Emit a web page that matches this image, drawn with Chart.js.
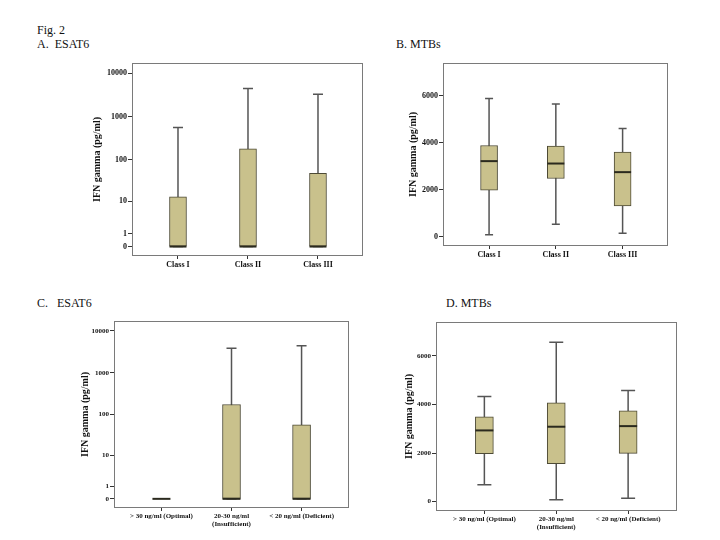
<!DOCTYPE html>
<html>
<head>
<meta charset="utf-8">
<script src="https://cdn.jsdelivr.net/npm/chart.js@4/dist/chart.umd.min.js"></script>
<style>
  body { margin: 0; background: #fff; }
  #wrap { position: relative; width: 720px; height: 540px; font-family: 'Liberation Serif', serif; }
  .lbl { position: absolute; font-size: 12px; color: #111; line-height: 14px; white-space: pre; }
  canvas { position: absolute; }
</style>
</head>
<body>
<div id="wrap">
  <div class="lbl" style="left:37px; top:23px;">Fig. 2</div>
  <div class="lbl" style="left:37px; top:37px;">A.  ESAT6</div>
  <div class="lbl" style="left:396px; top:37px;">B. MTBs</div>
  <div class="lbl" style="left:37px; top:296px;">C.   ESAT6</div>
  <div class="lbl" style="left:446px; top:296px;">D. MTBs</div>
  <canvas id="chartA" width="279" height="235" style="left:91px; top:55px;"></canvas>
  <canvas id="chartB" width="268" height="225" style="left:407px; top:55px;"></canvas>
  <canvas id="chartC" width="278" height="228" style="left:79px; top:312px;"></canvas>
  <canvas id="chartD" width="282" height="228" style="left:403px; top:312px;"></canvas>
</div>
<script>
// categories
const classLabels = ['Class I', 'Class II', 'Class III'];
const vitdLabels = ['> 30 ng/ml (Optimal)', ['20-30 ng/ml', '(Insufficient)'], '< 20 ng/ml (Deficient)'];

// tick values
const logTicks = [0, 1, 10, 100, 1000, 10000];
const mtbTicks = [0, 2000, 4000, 6000];

// A. ESAT6 by class (pg/ml)
const esatClassMin = [0, 0, 0];
const esatClassQ1 = [0, 0, 0];
const esatClassMed = [0, 0, 0];
const esatClassQ3 = [13, 178, 48];
const esatClassMax = [555, 4415, 3275];

// B. MTBs by class
const mtbClassMin = [98, 540, 157];
const mtbClassQ1 = [1987, 2481, 1319];
const mtbClassMed = [3221, 3119, 2753];
const mtbClassQ3 = [3885, 3860, 3604];
const mtbClassMax = [5885, 5647, 4609];

// C. ESAT6 by vitamin D status
const esatVitdMin = [0, 0, 0];
const esatVitdQ1 = [0, 0, 0];
const esatVitdMed = [0, 0, 0];
const esatVitdQ3 = [0, 175, 57];
const esatVitdMax = [0, 3873, 4390];

// D. MTBs by vitamin D status
const mtbVitdMin = [699, 82, 136];
const mtbVitdQ1 = [1972, 1561, 1985];
const mtbVitdMed = [2930, 3082, 3107];
const mtbVitdQ3 = [3493, 4068, 3740];
const mtbVitdMax = [4327, 6559, 4574];

const boxFill = '#C9C18C';
const boxBorder = '#4d4a35';
const whiskerColor = '#555555';
const frameColor = '#7a7a7a';

const lg = v => Math.log10(v + 1);
const same = v => v;

const boxPlugin = {
    id: 'boxExtras',
    beforeDatasetsDraw(chart) {
        const b = chart.options.plugins.boxExtras;
        const tf = b.log ? lg : same;
        const xs = chart.scales.x, ys = chart.scales.y, ctx = chart.ctx;
        ctx.save();
        ctx.strokeStyle = whiskerColor;
        ctx.lineWidth = 1.5;
        b.min.forEach((mn, i) => {
            const x = xs.getPixelForValue(i + 1);
            const yMin = ys.getPixelForValue(tf(mn)), yMax = ys.getPixelForValue(tf(b.max[i]));
            if (yMin === yMax) return;
            ctx.beginPath();
            ctx.moveTo(x, yMin); ctx.lineTo(x, yMax);
            ctx.moveTo(x - b.cap, yMin); ctx.lineTo(x + b.cap, yMin);
            ctx.moveTo(x - b.cap, yMax); ctx.lineTo(x + b.cap, yMax);
            ctx.stroke();
        });
        ctx.restore();
    },
    afterDatasetsDraw(chart) {
        const b = chart.options.plugins.boxExtras;
        const tf = b.log ? lg : same;
        const xs = chart.scales.x, ys = chart.scales.y, ctx = chart.ctx;
        const a = chart.chartArea;
        ctx.save();
        ctx.strokeStyle = '#2b2a1e';
        ctx.lineWidth = 2;
        b.med.forEach((m, i) => {
            const x = xs.getPixelForValue(i + 1), y = ys.getPixelForValue(tf(m));
            ctx.beginPath();
            ctx.moveTo(x - b.half, y); ctx.lineTo(x + b.half, y);
            ctx.stroke();
        });
        ctx.strokeStyle = frameColor;
        ctx.lineWidth = 1;
        ctx.strokeRect(a.left + 0.5, a.top + 0.5, a.right - a.left - 1, a.bottom - a.top - 1);
        ctx.restore();
    }
};

function makePanel(id, p) {
    const tf = p.log ? lg : same;
    const tickFont = { family: 'Liberation Serif', size: p.fs, weight: 'bold' };
    new Chart(document.getElementById(id), {
        type: 'bar',
        data: {
            datasets: [{
                data: p.q1.map((q, i) => ({ x: i + 1, y: [tf(q), tf(p.q3[i])] })),
                backgroundColor: boxFill, borderColor: boxBorder, borderWidth: 1,
                borderSkipped: false, barThickness: p.bw
            }]
        },
        options: {
            responsive: false, animation: false,
            layout: { padding: { top: p.padTop, right: p.padRight, left: 0, bottom: 0 } },
            scales: {
                x: {
                    type: 'linear', min: p.xMin, max: p.xMax, offset: false,
                    afterFit: s => { s.height = p.xH; },
                    afterBuildTicks: s => { s.ticks = [1, 2, 3].map(v => ({ value: v })); },
                    ticks: { autoSkip: false, maxRotation: 0, padding: 1, color: '#111', font: tickFont,
                        callback: (v) => p.labels[Math.round(v) - 1] },
                    grid: { offset: false, drawOnChartArea: false, tickLength: 3, color: '#333' },
                    border: { display: false }
                },
                y: {
                    min: p.log ? -0.218 : -385, max: p.log ? 4.234 : 7390,
                    afterFit: s => { s.width = p.yW; },
                    afterBuildTicks: s => { s.ticks = p.ticks.map(v => ({ value: tf(v) })); },
                    ticks: { padding: 1, color: '#111', font: tickFont,
                        callback: (v, i) => String(p.ticks[i]) },
                    grid: { drawOnChartArea: false, tickLength: 4, color: '#333' },
                    border: { display: false },
                    title: { display: true, text: 'IFN gamma (pg/ml)', padding: 0, color: '#111',
                        font: { family: 'Liberation Serif', size: 10, weight: 'bold' } }
                }
            },
            plugins: {
                legend: { display: false },
                tooltip: { enabled: false },
                boxExtras: { log: p.log, min: p.min, med: p.med, max: p.max, cap: p.cap, half: p.bw / 2 }
            }
        },
        plugins: [boxPlugin]
    });
}

makePanel('chartA', { log: true, labels: classLabels, ticks: logTicks, fs: 8,
    min: esatClassMin, q1: esatClassQ1, med: esatClassMed, q3: esatClassQ3, max: esatClassMax,
    xMin: 0.343, xMax: 3.643, bw: 17, cap: 5, yW: 41, xH: 34, padTop: 8, padRight: 7 });
makePanel('chartB', { log: false, labels: classLabels, ticks: mtbTicks, fs: 8,
    min: mtbClassMin, q1: mtbClassQ1, med: mtbClassMed, q3: mtbClassQ3, max: mtbClassMax,
    xMin: 0.31, xMax: 3.68, bw: 17, cap: 4, yW: 36, xH: 34, padTop: 8, padRight: 7 });
makePanel('chartC', { log: true, labels: vitdLabels, ticks: logTicks, fs: 7,
    min: esatVitdMin, q1: esatVitdQ1, med: esatVitdMed, q3: esatVitdQ3, max: esatVitdMax,
    xMin: 0.323, xMax: 3.677, bw: 18, cap: 5, yW: 35, xH: 32, padTop: 9, padRight: 8 });
makePanel('chartD', { log: false, labels: vitdLabels, ticks: mtbTicks, fs: 7,
    min: mtbVitdMin, q1: mtbVitdQ1, med: mtbVitdMed, q3: mtbVitdQ3, max: mtbVitdMax,
    xMin: 0.327, xMax: 3.68, bw: 18, cap: 7, yW: 33, xH: 29, padTop: 10, padRight: 8 });
</script>
</body>
</html>
